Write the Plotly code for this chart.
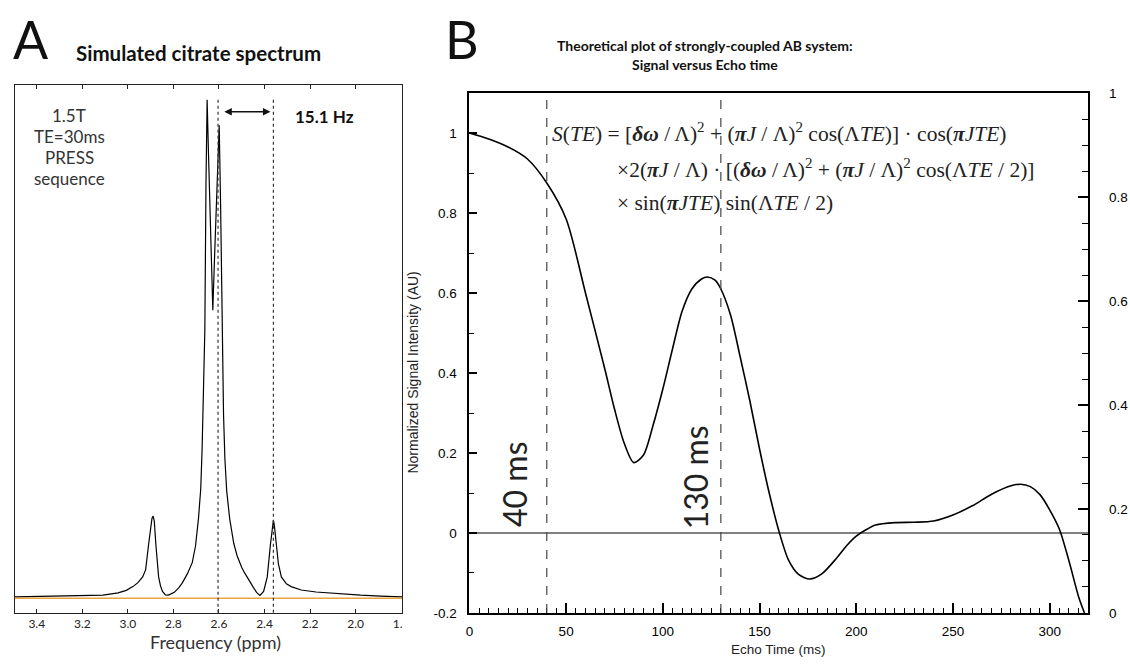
import plotly.graph_objects as go

W, H = 1130, 664


def px(x):
    return x / W


def py(y):
    return 1 - y / H


# ---------------- Panel A: simulated citrate spectrum ----------------
ppm = [3.496, 3.370, 3.239, 3.109, 3.043, 3.007, 2.978, 2.957, 2.935, 2.922,
       2.909, 2.900, 2.894, 2.889, 2.884, 2.877, 2.865, 2.857, 2.848, 2.835,
       2.822, 2.796, 2.775, 2.761, 2.739, 2.717, 2.703, 2.690, 2.680, 2.674,
       2.668, 2.662, 2.657, 2.652, 2.646, 2.637, 2.627, 2.620, 2.611, 2.602,
       2.599, 2.593, 2.587, 2.580, 2.574, 2.566, 2.553, 2.535, 2.520, 2.500,
       2.486, 2.465, 2.449, 2.435, 2.420, 2.404, 2.388, 2.374, 2.365, 2.361,
       2.357, 2.349, 2.339, 2.326, 2.304, 2.283, 2.239, 2.174, 2.096, 1.978,
       1.891, 1.796]
intensity = [0.003, 0.004, 0.005, 0.0065, 0.011, 0.016, 0.0235, 0.031, 0.043, 0.057,
             0.108, 0.141, 0.161, 0.165, 0.155, 0.108, 0.043, 0.0255, 0.0137, 0.007,
             0.0065, 0.012, 0.022, 0.031, 0.049, 0.072, 0.105, 0.16, 0.22, 0.30,
             0.40, 0.539, 0.833, 1.0, 0.892, 0.735, 0.578, 0.676, 0.794, 0.912,
             0.949, 0.794, 0.539, 0.37, 0.28, 0.215, 0.16, 0.11, 0.085, 0.062,
             0.05, 0.033, 0.022, 0.012, 0.006, 0.0137, 0.043, 0.108, 0.147, 0.157,
             0.147, 0.108, 0.069, 0.043, 0.029, 0.0235, 0.0167, 0.0127, 0.0098, 0.0063,
             0.0045, 0.003]
coupling_ppm = [2.604, 2.361]
coupling_top = 1.0
arrow_ppm = [2.583, 2.374]
arrow_level = 0.976
ppm_ticks = [3.4, 3.2, 3.0, 2.8, 2.6, 2.4, 2.2, 2.0, 1.8]
ppm_ticklabels = ["3.4", "3.2", "3.0", "2.8", "2.6", "2.4", "2.2", "2.0", "1.8"]
condition_lines = ["1.5T", "TE=30ms", "PRESS", "sequence"]

# ---------------- Panel B: signal versus echo time ----------------
te = [0, 10, 20, 30, 40, 50, 60, 70, 75, 80, 85, 90, 95, 100, 105, 110, 115, 120,
      123, 127, 130, 135, 140, 145, 150, 155, 160, 165, 170, 176, 182, 190, 195,
      200, 205, 210, 220, 230, 240, 250, 260, 270, 280, 285, 290, 295, 300, 305,
      310, 315, 318]
signal = [1.0, 0.985, 0.965, 0.935, 0.875, 0.785, 0.60, 0.41, 0.31, 0.225, 0.176,
          0.195, 0.27, 0.36, 0.46, 0.555, 0.61, 0.635, 0.64, 0.632, 0.61, 0.545,
          0.44, 0.33, 0.21, 0.10, 0.005, -0.068, -0.103, -0.115, -0.103, -0.062,
          -0.032, -0.008, 0.008, 0.02, 0.026, 0.027, 0.03, 0.045, 0.068, 0.097,
          0.118, 0.122, 0.116, 0.096, 0.058, 0.01, -0.07, -0.16, -0.2]
te_markers = [40, 130]
te_marker_labels = ["40 ms", "130 ms"]
sig_ticks = [-0.2, 0, 0.2, 0.4, 0.6, 0.8, 1]
sig_ticklabels = ["-0.2", "0", "0.2", "0.4", "0.6", "0.8", "1"]
right_ticks = [0, 0.2, 0.4, 0.6, 0.8, 1]
right_ticklabels = ["0", "0.2", "0.4", "0.6", "0.8", "1"]

SANS = "Lato, 'Open Sans', sans-serif"
ARIAL = "'Liberation Sans', Arial, sans-serif"
SERIF = "'Liberation Serif', 'Times New Roman', serif"

fig = go.Figure()
fig.add_trace(go.Scatter(x=ppm, y=intensity, mode="lines", xaxis="x", yaxis="y",
                         line=dict(color="black", width=1.2), showlegend=False,
                         hoverinfo="skip"))
fig.add_trace(go.Scatter(x=te, y=signal, mode="lines", xaxis="x2", yaxis="y2",
                         line=dict(color="black", width=1.6, shape="spline", smoothing=0.8),
                         showlegend=False, hoverinfo="skip"))
fig.add_trace(go.Scatter(x=[], y=[], xaxis="x2", yaxis="y3", showlegend=False))

shapes = []
shapes.append(dict(type="line", xref="x domain", x0=0, x1=1, yref="y", y0=0, y1=0,
                   line=dict(color="#E8A440", width=1.5)))
for c in coupling_ppm:
    shapes.append(dict(type="line", xref="x", x0=c, x1=c, yref="y", y0=coupling_top,
                       y1=-0.0294, line=dict(color="#333", width=1.2, dash="dot")))
for t in te_markers:
    shapes.append(dict(type="line", xref="x2", x0=t, x1=t, yref="y2", y0=-0.2, y1=1.1,
                       line=dict(color="#444", width=1.2, dash="dash")))
# the right-hand tick label of panel A is clipped by panel B in the original
shapes.append(dict(type="rect", xref="paper", yref="paper", x0=px(402.5), x1=px(418),
                   y0=py(642), y1=py(622), fillcolor="white", line=dict(width=0),
                   layer="above"))

ann = []
ann.append(dict(text="A", x=px(7), y=py(33), xref="paper", yref="paper", xanchor="left",
                yanchor="middle", showarrow=False, font=dict(family=SANS, size=52, color="#111")))
ann.append(dict(text="<b>Simulated citrate spectrum</b>", x=px(71), y=py(47), xref="paper",
                yref="paper", xanchor="left", yanchor="middle", showarrow=False,
                font=dict(family=SANS, size=20.5, color="#111")))
for i, line in enumerate(condition_lines):
    ann.append(dict(text=line, x=px(66), y=py(111 + 21.5 * i), xref="paper", yref="paper",
                    xanchor="center", yanchor="middle", showarrow=False,
                    font=dict(family=SANS, size=17, color="#333")))
ann.append(dict(text="<b>15.1 Hz</b>", x=px(292), y=py(112), xref="paper", yref="paper",
                xanchor="left", yanchor="middle", showarrow=False,
                font=dict(family=SANS, size=17, color="#111")))
ann.append(dict(text="", x=arrow_ppm[1], y=arrow_level, ax=arrow_ppm[0], ay=arrow_level,
                xref="x", yref="y", axref="x", ayref="y", showarrow=True,
                arrowside="end+start", arrowhead=2, arrowsize=1, arrowwidth=1.5,
                arrowcolor="#111"))
ann.append(dict(text="Frequency (ppm)", x=px(214), y=py(650), xref="paper", yref="paper",
                xanchor="center", yanchor="middle", showarrow=False,
                font=dict(family=SANS, size=18, color="#333")))

ann.append(dict(text="B", x=px(443), y=py(33), xref="paper", yref="paper", xanchor="left",
                yanchor="middle", showarrow=False, font=dict(family=SANS, size=52, color="#111")))
ann.append(dict(text="<b>Theoretical plot of strongly-coupled AB system:</b>", x=px(708),
                y=py(39), xref="paper", yref="paper", xanchor="center", yanchor="middle",
                showarrow=False, font=dict(family=SANS, size=14, color="#111")))
ann.append(dict(text="<b>Signal versus Echo time</b>", x=px(708), y=py(59), xref="paper",
                yref="paper", xanchor="center", yanchor="middle", showarrow=False,
                font=dict(family=SANS, size=14, color="#111")))

eq1 = ("<i>S</i>(<i>TE</i>) = [<b><i>δω</i></b> / Λ)<sup>2</sup> + (<b><i>π</i></b><i>J</i> / Λ)"
       "<sup>2</sup> cos(Λ<i>TE</i>)] · cos(<b><i>π</i></b><i>JTE</i>)")
eq2 = ("×2(<b><i>π</i></b><i>J</i> / Λ) · [(<b><i>δω</i></b> / Λ)<sup>2</sup> + "
       "(<b><i>π</i></b><i>J</i> / Λ)<sup>2</sup> cos(Λ<i>TE</i> / 2)]")
eq3 = "× sin(<b><i>π</i></b><i>JTE</i>) sin(Λ<i>TE</i> / 2)"
for txt, xx, yy in [(eq1, 551, 128), (eq2, 617, 165), (eq3, 617, 201)]:
    ann.append(dict(text=txt, x=px(xx), y=py(yy), xref="paper", yref="paper",
                    xanchor="left", yanchor="middle", showarrow=False, align="left",
                    font=dict(family=SERIF, size=21.5, color="#222")))

for lbl, cx, cy in [(te_marker_labels[0], 516, 488), (te_marker_labels[1], 698, 481)]:
    ann.append(dict(text=lbl, x=px(cx), y=py(cy), xref="paper", yref="paper",
                    xanchor="center", yanchor="middle", showarrow=False, textangle=-90,
                    font=dict(family=SANS, size=32, color="#222")))

ann.append(dict(text="Normalized Signal Intensity (AU)", x=px(413), y=py(374), xref="paper",
                yref="paper", xanchor="center", yanchor="middle", showarrow=False,
                textangle=-90, font=dict(family=ARIAL, size=14, color="#222")))
ann.append(dict(text="Echo Time (ms)", x=px(782), y=py(657), xref="paper", yref="paper",
                xanchor="center", yanchor="middle", showarrow=False,
                font=dict(family=ARIAL, size=13.5, color="#222")))

fig.update_layout(
    width=W, height=H, margin=dict(l=0, r=0, t=0, b=0),
    paper_bgcolor="white", plot_bgcolor="white", showlegend=False,
    shapes=shapes, annotations=ann,
    xaxis=dict(domain=[px(11), px(402)], range=[3.496, 1.796], anchor="y",
               showline=True, linecolor="#222", linewidth=1, mirror="ticks",
               ticks="inside", ticklen=4, tickcolor="#222", tickvals=ppm_ticks,
               ticktext=ppm_ticklabels, tickfont=dict(family=SANS, size=12, color="#222"),
               showgrid=False, zeroline=False),
    yaxis=dict(domain=[py(620), py(80)], range=[-0.0294, 1.0294], anchor="x",
               showline=True, linecolor="#222", linewidth=1, mirror=True,
               showticklabels=False, ticks="", showgrid=False, zeroline=False),
    xaxis2=dict(domain=[px(470), px(1095)], range=[0, 320], anchor="y2",
                showline=True, linecolor="black", linewidth=2, mirror=True,
                ticks="inside", ticklen=10, tickwidth=1.5, tickcolor="black",
                tickmode="linear", tick0=0, dtick=50, ticklabelstandoff=5,
                minor=dict(ticks="inside", tickmode="linear", tick0=0, dtick=5,
                           ticklen=5, tickwidth=1, tickcolor="black"),
                tickfont=dict(family=ARIAL, size=13.5, color="black"),
                showgrid=False, zeroline=False),
    yaxis2=dict(domain=[py(620), py(88)], range=[-0.2, 1.1], anchor="x2",
                showline=True, linecolor="black", linewidth=2,
                ticks="inside", ticklen=8, tickwidth=1.5, tickcolor="black",
                tickvals=sig_ticks, ticktext=sig_ticklabels, ticklabelstandoff=8,
                minor=dict(ticks="inside", tickmode="linear", tick0=0, dtick=0.1,
                           ticklen=5, tickwidth=1, tickcolor="black"),
                tickfont=dict(family=ARIAL, size=13.5, color="black"),
                showgrid=False, zeroline=True, zerolinecolor="#808080", zerolinewidth=2),
    yaxis3=dict(overlaying="y2", side="right", anchor="x2", range=[0, 1],
                showline=True, linecolor="black", linewidth=2,
                ticks="inside", ticklen=10, tickwidth=1.5, tickcolor="black",
                tickvals=right_ticks, ticktext=right_ticklabels, ticklabelstandoff=16,
                minor=dict(ticks="inside", tickmode="linear", tick0=0, dtick=0.05,
                           ticklen=6, tickwidth=1, tickcolor="black"),
                tickfont=dict(family=ARIAL, size=13.5, color="black"),
                showgrid=False, zeroline=False),
)

fig.write_html("out.html")
